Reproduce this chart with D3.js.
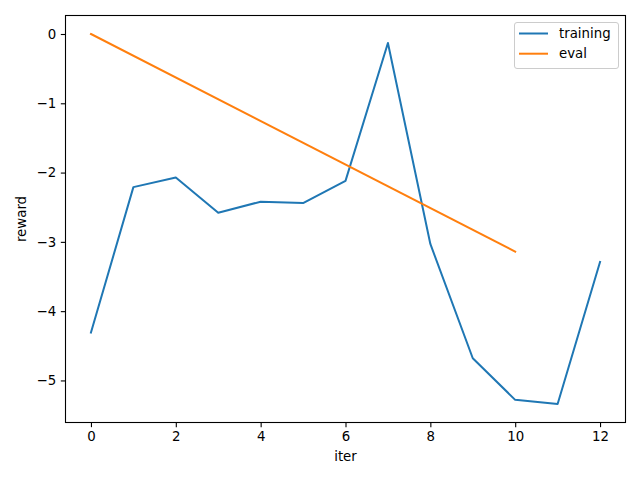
<!DOCTYPE html>
<html><head><meta charset="utf-8">
<script src="https://cdn.jsdelivr.net/npm/d3@7"></script>
<style>body{margin:0;background:#fff}svg{display:block}text{font-family:"DejaVu Sans",sans-serif;fill:#000}</style>
</head><body>
<script>
const trainingIter = [0,1,2,3,4,5,6,7,8,9,10,11,12];
const trainingReward = [-4.31,-2.21,-2.07,-2.58,-2.42,-2.44,-2.12,-0.13,-3.03,-4.68,-5.28,-5.34,-3.29];
const evalIter = [0,10];
const evalReward = [0,-3.14];
const xTicks = [0,2,4,6,8,10,12];
const yTicks = [0,-1,-2,-3,-4,-5];
const seriesNames = ["training","eval"];
const colors = ["#1f77b4","#ff7f0e"];

const W=640,H=480;
const L=65.5,R=625.5,T=15.5,B=422.5;
const svg=d3.select("body").append("svg").attr("width",W).attr("height",H);
const allY=trainingReward.concat(evalReward);
const ymin=d3.min(allY),ymax=d3.max(allY),yp=(ymax-ymin)*0.05;
const allX=trainingIter.concat(evalIter);
const xmin=d3.min(allX),xmax=d3.max(allX),xp=(xmax-xmin)*0.05;
const x=d3.scaleLinear().domain([xmin-xp,xmax+xp]).range([L,R]);
const y=d3.scaleLinear().domain([ymin-yp,ymax+yp]).range([B,T]);
const fmt=d=>(d<0?"\u2212":"")+Math.abs(d);

const line=d3.line().x(d=>x(d[0])).y(d=>y(d[1]));
const g=svg.append("g");
g.append("path").datum(trainingIter.map((v,i)=>[v,trainingReward[i]])).attr("d",line)
 .attr("fill","none").attr("stroke",colors[0]).attr("stroke-width",2).attr("stroke-linejoin","round").attr("stroke-linecap","square");
g.append("path").datum(evalIter.map((v,i)=>[v,evalReward[i]])).attr("d",line)
 .attr("fill","none").attr("stroke",colors[1]).attr("stroke-width",2).attr("stroke-linejoin","round").attr("stroke-linecap","square");

const xa=svg.append("g").attr("transform",`translate(0,${B})`)
 .call(d3.axisBottom(x).tickValues(xTicks).tickFormat(fmt).tickSize(4.67).tickPadding(4.67).tickSizeOuter(0));
const ya=svg.append("g").attr("transform",`translate(${L},0)`)
 .call(d3.axisLeft(y).tickValues(yTicks).tickFormat(fmt).tickSize(4.67).tickPadding(4.67).tickSizeOuter(0));
[xa,ya].forEach(a=>{a.select(".domain").remove();a.selectAll("text").attr("font-size","13.33px").attr("font-family","DejaVu Sans").attr("fill","#000");a.selectAll("line").attr("stroke","#000").attr("stroke-width",1.1);});

svg.append("rect").attr("x",L).attr("y",T).attr("width",R-L).attr("height",B-T)
 .attr("fill","none").attr("stroke","#000").attr("stroke-width",1.1);

svg.append("text").attr("x",(L+R)/2).attr("y",461).attr("text-anchor","middle").attr("font-size","13.33px").text("iter");
svg.append("text").attr("transform",`translate(26,${(T+B)/2}) rotate(-90)`).attr("text-anchor","middle").attr("font-size","13.33px").text("reward");

const lg=svg.append("g");
lg.append("rect").attr("x",514.5).attr("y",22.5).attr("width",104).attr("height",46).attr("rx",2.5)
 .attr("fill","#fff").attr("fill-opacity",0.8).attr("stroke","#ccc").attr("stroke-width",1);
seriesNames.forEach((n,i)=>{
  const cy=33.5+i*20.2;
  lg.append("line").attr("x1",519).attr("x2",548).attr("y1",cy).attr("y2",cy).attr("stroke",colors[i]).attr("stroke-width",2);
  lg.append("text").attr("x",559).attr("y",cy).attr("dy","0.35em").attr("font-size","13.33px").text(n);
});
</script>
</body></html>
